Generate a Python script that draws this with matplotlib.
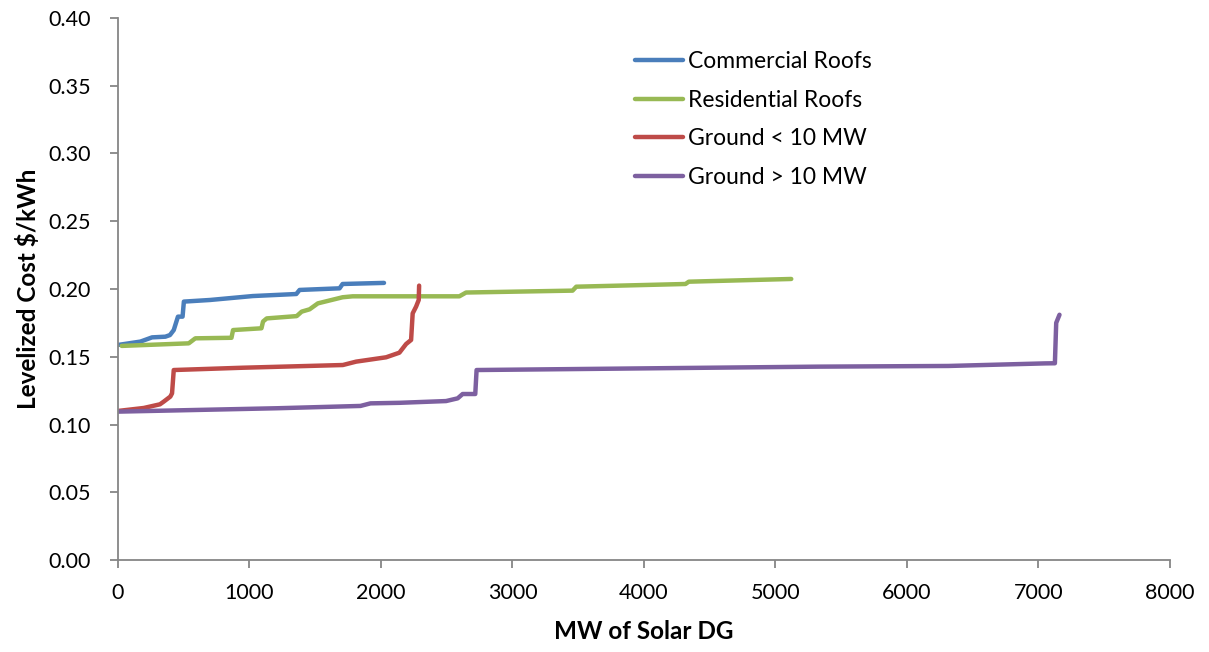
import matplotlib
matplotlib.use("Agg")
import matplotlib.pyplot as plt

# Supply curves: cumulative capacity (MW) vs levelized cost ($/kWh)
commercial_mw = [0, 171, 259, 360, 395, 424, 456, 491, 501, 700, 1025, 1356, 1381, 1685, 1708, 2023]
commercial_cost = [0.1587, 0.1612, 0.1643, 0.1648, 0.1660, 0.1697, 0.1796, 0.1796, 0.1907, 0.1919,
                   0.1948, 0.1963, 0.1993, 0.2005, 0.2037, 0.2045]

residential_mw = [28, 538, 588, 863, 875, 1091, 1103, 1131, 1359, 1397, 1457, 1520, 1708, 1784,
                  2596, 2647, 3457, 3485, 4316, 4341, 5120]
residential_cost = [0.1580, 0.1599, 0.1636, 0.1640, 0.1697, 0.1710, 0.1760, 0.1783, 0.1800, 0.1833,
                    0.1850, 0.1894, 0.1939, 0.1946, 0.1946, 0.1974, 0.1988, 0.2017, 0.2037, 0.2054, 0.2074]

ground_small_mw = [0, 196, 319, 348, 398, 411, 424, 949, 1710, 1811, 2039, 2140, 2191, 2229, 2241,
                   2267, 2287, 2290]
ground_small_cost = [0.1100, 0.1122, 0.1149, 0.1169, 0.1206, 0.1230, 0.1402, 0.1419, 0.1439, 0.1464,
                     0.1496, 0.1530, 0.1594, 0.1624, 0.1820, 0.1870, 0.1919, 0.2025]

ground_large_mw = [0, 1212, 1844, 1920, 2140, 2495, 2583, 2621, 2717, 2727, 5328, 6315, 7049, 7125,
                   7135, 7160]
ground_large_cost = [0.1095, 0.1120, 0.1137, 0.1156, 0.1160, 0.1173, 0.1193, 0.1225, 0.1225, 0.1402,
                     0.1427, 0.1432, 0.1451, 0.1452, 0.1750, 0.1810]

series_labels = ["Commercial Roofs", "Residential Roofs", "Ground < 10 MW", "Ground > 10 MW"]
series_colors = ["#4A7EBB", "#98B954", "#BE4B48", "#7D60A0"]

x_ticks = [0, 1000, 2000, 3000, 4000, 5000, 6000, 7000, 8000]
y_ticks = [0.00, 0.05, 0.10, 0.15, 0.20, 0.25, 0.30, 0.35, 0.40]

plt.rcParams["font.family"] = ["Lato", "DejaVu Sans"]

fig = plt.figure(figsize=(12.09, 6.52), dpi=100)
ax = fig.add_axes([0.0976, 0.1411, 0.9677 - 0.0976, 0.9724 - 0.1411])

data = [(commercial_mw, commercial_cost), (residential_mw, residential_cost),
        (ground_small_mw, ground_small_cost), (ground_large_mw, ground_large_cost)]
for (xs, ys), lab, col in zip(data, series_labels, series_colors):
    ax.plot(xs, ys, color=col, lw=3.2, label=lab, solid_capstyle="round", solid_joinstyle="round")

ax.set_xlim(0, 8000)
ax.set_ylim(0, 0.40)
ax.set_xticks(x_ticks)
ax.set_xticklabels([str(v) for v in x_ticks])
ax.set_yticks(y_ticks)
ax.set_yticklabels([f"{v:.2f}" for v in y_ticks])

for side in ("top", "right"):
    ax.spines[side].set_visible(False)
for side in ("left", "bottom"):
    ax.spines[side].set_color("#868686")
    ax.spines[side].set_linewidth(1.3)
ax.tick_params(axis="both", colors="#868686", labelcolor="black", labelsize=15.5, length=5.5, width=1.3)
ax.tick_params(axis="x", pad=11)
ax.tick_params(axis="y", pad=14)

ax.set_xlabel("MW of Solar DG", fontsize=17.5, fontweight="bold", labelpad=12)
ax.set_ylabel("Levelized Cost $/kWh", fontsize=17.5, fontweight="bold", labelpad=6)

leg = ax.legend(loc="upper left", bbox_to_anchor=(0.483, 0.9565), frameon=False, fontsize=16.5,
                handlelength=2.1, handletextpad=0.22, labelspacing=0.78, borderaxespad=0)

fig.savefig("out.png", dpi=100)
